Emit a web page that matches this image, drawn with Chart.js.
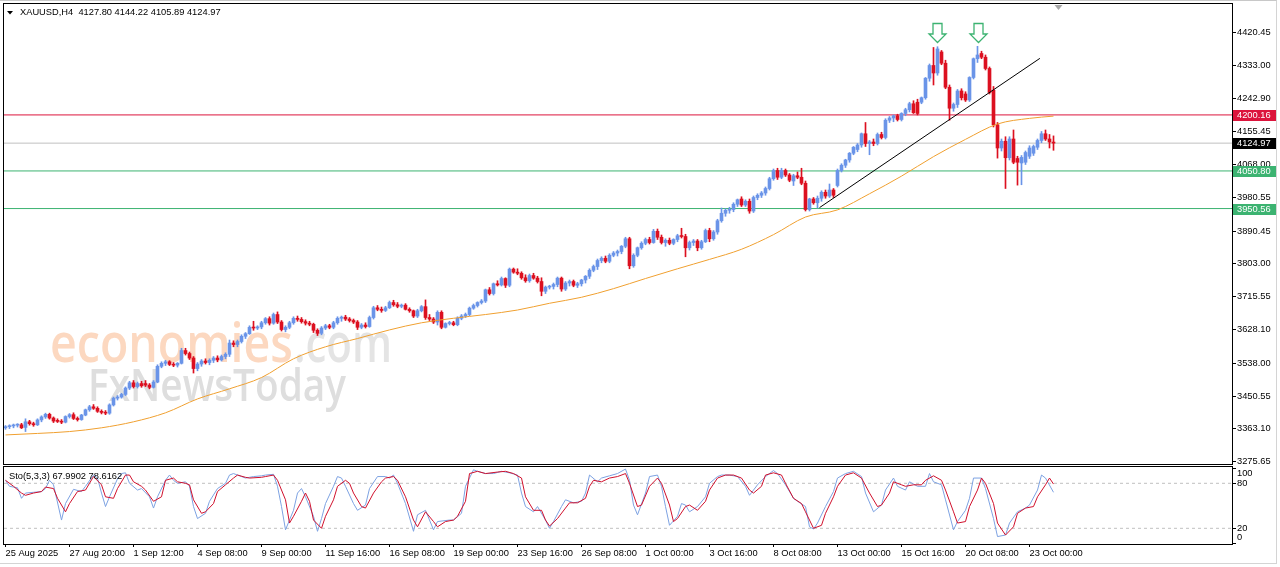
<!DOCTYPE html>
<html><head><meta charset="utf-8">
<script src="https://cdn.jsdelivr.net/npm/chart.js@4.4.1/dist/chart.umd.min.js"></script>
<style>
html,body{margin:0;padding:0;background:#fff;}
#wrap{position:relative;width:1280px;height:567px;overflow:hidden;background:#fff;}
#main{position:absolute;left:0;top:0;}
#osc{position:absolute;left:0;top:466px;}
#edge{position:absolute;left:0;top:0;width:1276px;height:562px;border-top:1px solid #c8c8c8;border-right:1px solid #d4d4d4;border-bottom:1px solid #d4d4d4;pointer-events:none;}
</style></head><body>
<div id="wrap">
<canvas id="main" width="1280" height="466"></canvas>
<canvas id="osc" width="1280" height="101"></canvas>
<div id="edge"></div>
</div>
<script>
const symbol = 'XAUUSD';
const timeframe = 'H4';

const opens = [
3366,3369,3371,3373,3374,3367,3382,3377,3374,3387,
3395,3402,3392,3386,3383,3381,3396,3401,3391,3388,
3400,3414,3422,3418,3410,3407,3405,3427,3445,3448,
3455,3472,3486,3476,3484,3484,3480,3474,3488,3530,
3538,3542,3535,3533,3538,3572,3564,3552,3524,3536,
3544,3540,3546,3552,3547,3556,3562,3592,3588,3596,
3610,3617,3634,3632,3635,3646,3657,3645,3668,3648,
3628,3634,3646,3658,3655,3649,3645,3642,3626,3618,
3632,3638,3634,3646,3658,3661,3656,3652,3648,3634,
3640,3636,3660,3686,3682,3679,3686,3700,3694,3690,
3693,3682,3678,3664,3678,3689,3660,3656,3648,3674,
3634,3644,3646,3641,3658,3664,3668,3685,3692,3700,
3704,3734,3724,3750,3747,3764,3746,3789,3781,3778,
3766,3758,3772,3765,3756,3730,3741,3743,3748,3765,
3736,3752,3756,3746,3750,3760,3770,3786,3796,3812,
3818,3810,3826,3832,3836,3850,3870,3798,3826,3846,
3858,3868,3860,3890,3874,3860,3866,3858,3868,3878,
3876,3846,3860,3864,3846,3862,3892,3870,3888,3918,
3938,3946,3948,3962,3976,3960,3970,3944,3980,3986,
3992,4004,4030,4052,4034,4052,4040,4024,4038,4034,
4018,3948,3976,3966,3978,3994,3984,4000,4012,4052,
4066,4080,4098,4108,4120,4150,4124,4128,4124,4148,
4140,4186,4192,4198,4188,4204,4214,4230,4234,4234,
4246,4298,4332,4312,4368,4338,4274,4218,4228,4264,
4256,4240,4300,4350,4364,4354,4324,4266,4174,4112,
4130,4086,4136,4084,4072,4074,4090,4098,4114,4132,
4150,4136,4127.80];

const highs = [
3372,3374,3376,3377,3378,3390,3386,3381,3390,3398,
3405,3405,3395,3390,3388,3398,3404,3406,3395,3402,
3416,3426,3428,3422,3414,3412,3430,3448,3452,3458,
3475,3490,3492,3488,3490,3492,3484,3492,3534,3542,
3546,3545,3540,3540,3578,3578,3568,3556,3540,3548,
3550,3550,3556,3558,3560,3566,3600,3598,3600,3614,
3620,3638,3650,3638,3650,3660,3662,3672,3675,3652,
3638,3650,3662,3664,3660,3654,3650,3645,3630,3636,
3642,3642,3650,3662,3664,3666,3660,3656,3652,3644,
3646,3664,3690,3692,3688,3690,3704,3706,3700,3696,
3697,3686,3680,3682,3692,3707,3668,3660,3678,3678,
3646,3650,3650,3662,3668,3672,3688,3696,3702,3708,
3736,3740,3752,3758,3768,3766,3792,3792,3790,3782,
3774,3776,3778,3770,3766,3744,3746,3752,3768,3768,
3756,3760,3760,3754,3762,3772,3790,3800,3816,3822,
3824,3830,3836,3840,3852,3874,3874,3830,3848,3862,
3872,3874,3895,3896,3880,3870,3872,3870,3882,3898,
3882,3864,3868,3868,3866,3896,3898,3892,3922,3952,
3950,3954,3966,3976,3982,3974,3976,3984,3990,3996,
4008,4034,4056,4058,4058,4056,4044,4042,4048,4058,
4024,3978,3980,3984,3998,4000,4016,4004,4056,4070,
4082,4100,4116,4124,4152,4180,4132,4136,4152,4154,
4190,4196,4200,4202,4206,4218,4234,4238,4242,4248,
4300,4336,4380,4382,4372,4346,4280,4232,4268,4270,
4262,4302,4352,4383,4370,4360,4328,4276,4180,4136,
4142,4142,4160,4090,4092,4104,4118,4120,4136,4156,
4160,4148,4144.22];

const lows = [
3362,3364,3366,3368,3364,3356,3373,3370,3372,3382,
3391,3389,3380,3380,3377,3379,3392,3388,3384,3386,
3398,3410,3415,3407,3403,3401,3402,3424,3440,3445,
3452,3468,3472,3472,3474,3476,3470,3472,3486,3526,
3532,3532,3529,3528,3536,3560,3548,3512,3518,3530,
3536,3534,3540,3542,3544,3550,3556,3582,3582,3592,
3604,3615,3626,3628,3630,3642,3640,3642,3644,3624,
3622,3630,3642,3650,3645,3640,3638,3620,3612,3614,
3628,3630,3630,3642,3650,3652,3648,3644,3628,3630,
3632,3634,3656,3678,3674,3676,3684,3690,3686,3686,
3680,3674,3660,3660,3675,3655,3652,3644,3640,3630,
3632,3640,3638,3638,3654,3660,3665,3682,3688,3696,
3700,3720,3720,3744,3744,3740,3742,3778,3774,3762,
3754,3754,3762,3752,3718,3724,3736,3736,3742,3730,
3732,3744,3742,3740,3744,3752,3764,3782,3788,3806,
3806,3806,3822,3824,3830,3846,3790,3794,3822,3842,
3854,3856,3858,3868,3856,3850,3854,3854,3862,3872,
3822,3840,3852,3838,3842,3860,3862,3866,3882,3914,
3930,3938,3942,3956,3956,3956,3938,3940,3974,3980,
3986,4000,4026,4028,4030,4036,4022,4012,4030,4014,
3944,3944,3962,3952,3970,3978,3980,3980,4008,4048,
4060,4074,4094,4102,4114,4116,4094,4118,4120,4136,
4136,4180,4182,4184,4184,4198,4208,4204,4200,4230,
4242,4290,4280,4306,4334,4270,4186,4210,4220,4240,
4236,4236,4296,4340,4350,4320,4256,4168,4085,4104,
4004,4080,4070,4013,4014,4068,4084,4092,4108,4126,
4132,4112,4105.89];

const closes = [
3369,3371,3373,3374,3366,3382,3377,3374,3387,3395,
3402,3392,3384,3383,3381,3396,3401,3391,3388,3400,
3414,3422,3418,3410,3407,3405,3427,3445,3448,3455,
3472,3486,3476,3484,3478,3480,3474,3488,3530,3538,
3542,3535,3533,3538,3572,3564,3552,3524,3536,3544,
3540,3546,3552,3547,3556,3562,3592,3588,3596,3610,
3617,3634,3632,3635,3646,3657,3645,3668,3648,3628,
3634,3646,3658,3655,3649,3645,3642,3626,3618,3632,
3638,3634,3646,3658,3661,3656,3652,3648,3634,3640,
3636,3660,3686,3682,3679,3686,3700,3694,3690,3693,
3682,3678,3664,3678,3689,3660,3656,3648,3674,3634,
3644,3646,3641,3658,3664,3668,3685,3692,3700,3704,
3734,3724,3750,3747,3764,3746,3789,3781,3778,3766,
3758,3772,3765,3756,3730,3741,3743,3748,3765,3736,
3752,3756,3746,3750,3760,3770,3786,3796,3812,3818,
3810,3826,3832,3836,3850,3870,3798,3826,3846,3858,
3868,3860,3890,3874,3860,3866,3858,3868,3878,3876,
3846,3860,3864,3846,3862,3892,3870,3888,3918,3938,
3946,3948,3962,3974,3960,3970,3944,3980,3986,3992,
4004,4030,4052,4034,4052,4040,4026,4038,4034,4018,
3948,3976,3966,3978,3994,3984,4000,3986,4052,4066,
4080,4098,4114,4120,4150,4124,4128,4124,4148,4140,
4186,4192,4198,4188,4204,4214,4230,4206,4204,4246,
4298,4332,4312,4376,4338,4274,4218,4228,4264,4246,
4240,4300,4350,4360,4354,4324,4260,4174,4112,4130,
4086,4136,4074,4074,4087,4100,4112,4116,4132,4150,
4136,4128,4124.97];

// moving average read at every 8th bar: [bar, price]
const maPoints = [[0,3347],[8,3351],[16,3356],[24,3366],[32,3382],[40,3406],[48,3443],[56,3470],
[64,3500],[72,3550],[80,3582],[88,3604],[96,3627],[104,3646],[112,3658],[120,3668],[128,3680],
[136,3698],[144,3714],[152,3737],[160,3764],[168,3790],[176,3815],[184,3842],[192,3881],
[200,3928],[208,3947],[216,3990],[224,4037],[232,4089],[240,4135],[248,4176],[256,4191],[262,4197]];

const trendLine = [[203.5,3953],[258.6,4351]];
const levelValues = [4200.16, 4124.97, 4050.80, 3950.56];
const arrowBars = [233, 243];
const arrowTipPrice = 4395;
const shiftMarkBar = 263.25;

const priceTicks = [4420.45,4333.00,4242.90,4155.45,4068.00,3980.55,3890.45,3803.00,3715.55,3628.10,3538.00,3450.55,3363.10,3275.65];

const dateTickBars = [0,16,32,48,64,80,96,112,128,144,160,176,192,208,224,240,256];
const dateTickLabels = ['25 Aug 2025','27 Aug 20:00','1 Sep 12:00','4 Sep 08:00','9 Sep 00:00','11 Sep 16:00','16 Sep 08:00','19 Sep 00:00','23 Sep 16:00','26 Sep 08:00','1 Oct 00:00','3 Oct 16:00','8 Oct 08:00','13 Oct 00:00','15 Oct 16:00','20 Oct 08:00','23 Oct 00:00'];

// Stochastic(5,3,3): [bar, value]
const stochK = [[0,84],[1,76],[3,74],[4,60],[5,67],[7,68],[9,69],[10,73],[11,84],[12,78],[14,31],[15,53],[17,72],[19,69],[20,76],[22,91],[23,87],[24,67],[25,49],[26,62],[28,86],[29,93],[30,94],[31,80],[33,71],[34,73],[36,62],[37,47],[38,62],[40,84],[41,91],[42,84],[43,80],[45,82],[46,76],[47,49],[48,33],[50,40],[51,56],[53,73],[55,80],[56,91],[57,93],[59,89],[60,87],[62,89],[64,90],[65,91],[67,92],[68,76],[69,49],[70,18],[72,44],[73,67],[74,73],[75,62],[77,36],[78,16],[79,33],[80,53],[82,76],[83,89],[84,87],[85,76],[87,53],[88,44],[90,51],[91,73],[93,89],[95,89],[96,87],[97,91],[98,80],[100,53],[102,16],[103,38],[105,44],[107,18],[108,29],[111,31],[112,31],[114,40],[115,76],[117,98],[118,96],[120,93],[122,93],[124,96],[126,94],[128,91],[129,67],[130,49],[132,42],[133,49],[135,31],[136,20],[137,29],[139,49],[140,58],[142,54],[144,56],[145,67],[146,91],[148,82],[149,87],[151,90],[153,93],[155,99],[156,84],[157,51],[158,38],[160,67],[161,89],[163,91],[164,76],[165,49],[166,24],[168,36],[169,53],[170,51],[171,42],[173,49],[175,62],[176,80],[178,89],[179,91],[181,91],[183,89],[185,76],[186,64],[188,78],[190,89],[192,97],[193,93],[195,78],[197,60],[198,56],[200,49],[201,22],[202,19],[203,27],[205,49],[207,69],[208,87],[210,93],[212,96],[214,89],[215,67],[217,42],[219,51],[220,71],[222,87],[223,76],[225,71],[226,82],[228,76],[230,76],[231,93],[232,82],[234,78],[235,58],[237,18],[238,29],[240,44],[241,60],[242,87],[244,87],[245,73],[247,33],[248,9],[250,11],[251,27],[253,42],[255,47],[256,51],[258,71],[259,91],[260,87],[262,68]];
const stochD = [[0,84],[2,76],[4,67],[5,64],[7,67],[9,69],[10,75],[12,73],[13,60],[15,42],[16,53],[18,69],[20,71],[21,80],[22,89],[24,78],[25,62],[27,60],[28,73],[30,91],[31,91],[32,82],[34,76],[35,71],[37,56],[39,62],[40,84],[42,87],[43,82],[45,80],[46,78],[47,58],[49,40],[50,42],[52,53],[53,69],[55,78],[57,87],[58,91],[60,88],[61,87],[64,88],[65,89],[67,91],[68,84],[70,58],[71,27],[72,36],[74,56],[75,67],[76,56],[77,31],[79,20],[80,36],[82,58],[83,76],[85,84],[86,80],[87,67],[89,49],[90,47],[92,67],[94,82],[95,87],[97,89],[98,84],[100,62],[102,31],[103,22],[105,42],[107,29],[108,22],[110,29],[112,31],[113,36],[115,56],[116,93],[118,96],[120,93],[123,95],[125,96],[127,93],[129,87],[130,62],[132,44],[134,44],[135,31],[136,23],[138,33],[140,47],[141,54],[143,54],[145,60],[146,76],[147,84],[149,82],[151,87],[153,89],[155,93],[156,80],[158,49],[159,51],[161,76],[163,87],[164,80],[166,51],[167,29],[168,33],[170,49],[171,51],[173,44],[175,56],[176,71],[178,87],[180,91],[182,91],[184,87],[186,71],[187,67],[189,76],[190,91],[192,94],[194,91],[195,80],[197,60],[199,53],[200,42],[202,20],[204,24],[205,40],[207,62],[208,76],[210,91],[212,94],[214,87],[216,67],[218,49],[219,51],[221,67],[222,82],[224,78],[225,76],[227,78],[229,78],[230,84],[232,90],[234,84],[235,71],[237,42],[238,27],[240,29],[241,49],[243,71],[244,87],[245,80],[247,53],[248,27],[250,11],[252,22],[253,40],[255,47],[257,49],[258,62],[260,78],[261,87],[262,79]];
const stochLast = [67.9902, 78.6162];
const stochLevels = [80, 20];
const stochTicks = [100, 80, 20, 0];

// ---------- styling ----------
const FONT = '"Liberation Sans", Arial, sans-serif';
const FS = 9.3;
const BULL = '#6a94e8';
const BEAR = '#dc1020';
const MA_COLOR = '#f0a030';
const LEVEL_COLORS = ['#dc143c', '#c0c0c0', '#3cb371', '#3cb371'];
const LEVEL_BOX = ['#dc143c', '#000000', '#3cb371', '#3cb371'];
const X_MIN = -0.375, X_MAX = 306.625;

Chart.defaults.font.family = FONT;
Chart.defaults.font.size = FS;
Chart.defaults.color = '#000';

const barIndex = opens.map((_, i) => i);
const candleColors = opens.map((o, i) => closes[i] >= o ? BULL : BEAR);
const toXY = arr => arr.map(([x, y]) => ({x, y}));
const fixAxis = (w) => s => { if (w) s.width = w; s.paddingTop = 0; s.paddingBottom = 0; s.paddingLeft = 0; s.paddingRight = 0; };

const framePlugin = {
  id: 'frame',
  afterDraw(chart) {
    const {ctx, chartArea: a} = chart;
    ctx.save();
    ctx.strokeStyle = '#000';
    ctx.lineWidth = 1;
    ctx.strokeRect(Math.round(a.left) - 0.5, Math.round(a.top) - 0.5, Math.round(a.right - a.left) + 1, Math.round(a.bottom - a.top) + 1);
    ctx.restore();
  }
};

function fitText(ctx, text, x, y, width, font, color) {
  ctx.font = font;
  const w = ctx.measureText(text).width;
  ctx.save();
  ctx.translate(x, y);
  ctx.scale(width / w, 1);
  ctx.fillStyle = color;
  ctx.fillText(text, 0, 0);
  ctx.restore();
}

const watermarkPlugin = {
  id: 'watermark',
  beforeDatasetsDraw(chart) {
    const ctx = chart.ctx;
    ctx.save();
    ctx.textBaseline = 'alphabetic';
    fitText(ctx, 'economies', 50, 362, 243, '600 54px "Open Sans", sans-serif', 'rgb(252,216,192)');
    fitText(ctx, '.com', 294, 362, 98, '600 54px "Open Sans", sans-serif', 'rgb(228,228,228)');
    fitText(ctx, 'FxNewsToday', 88, 401, 258, '600 45px "Open Sans", sans-serif', 'rgb(222,222,222)');
    ctx.restore();
  }
};

const mainOverlay = {
  id: 'mainOverlay',
  afterDatasetsDraw(chart) {
    const {ctx, scales: {x, y}} = chart;
    ctx.save();
    arrowBars.forEach(b => {
      const cx = Math.round(x.getPixelForValue(b)) + 0.5;
      const ty = Math.round(y.getPixelForValue(arrowTipPrice)) + 0.5;
      ctx.beginPath();
      ctx.moveTo(cx - 4.5, ty - 19);
      ctx.lineTo(cx + 4.5, ty - 19);
      ctx.lineTo(cx + 4.5, ty - 8.5);
      ctx.lineTo(cx + 8.5, ty - 8.5);
      ctx.lineTo(cx, ty);
      ctx.lineTo(cx - 8.5, ty - 8.5);
      ctx.lineTo(cx - 4.5, ty - 8.5);
      ctx.closePath();
      ctx.fillStyle = '#fff';
      ctx.fill();
      ctx.strokeStyle = '#3cb371';
      ctx.lineWidth = 1.3;
      ctx.stroke();
    });
    ctx.restore();
  },
  afterDraw(chart) {
    const {ctx, chartArea: a, scales: {x, y}} = chart;
    ctx.save();
    ctx.font = FS + 'px ' + FONT;
    ctx.textBaseline = 'middle';
    levelValues.forEach((v, k) => {
      const py = Math.round(y.getPixelForValue(v));
      ctx.fillStyle = LEVEL_BOX[k];
      ctx.fillRect(a.right + 1, py - 5, 43, 11);
      ctx.fillStyle = '#fff';
      ctx.fillText(v.toFixed(2), a.right + 5, py + 0.5);
    });
    const n = closes.length - 1;
    ctx.fillStyle = '#000';
    ctx.beginPath();
    ctx.moveTo(7, 11); ctx.lineTo(13, 11); ctx.lineTo(10, 14.5); ctx.closePath(); ctx.fill();
    ctx.fillText(`${symbol},${timeframe}  ${opens[n].toFixed(2)} ${highs[n].toFixed(2)} ${lows[n].toFixed(2)} ${closes[n].toFixed(2)}`, 20, 12.5);
    const sx = x.getPixelForValue(shiftMarkBar);
    ctx.fillStyle = '#a8a8a8';
    ctx.beginPath();
    ctx.moveTo(sx - 4, a.top + 1); ctx.lineTo(sx + 4, a.top + 1); ctx.lineTo(sx, a.top + 6); ctx.closePath(); ctx.fill();
    ctx.restore();
  }
};

const levelDatasets = levelValues.map((v, k) => ({
  type: 'line', label: 'level' + k,
  data: [{x: X_MIN, y: v}, {x: X_MAX, y: v}],
  borderColor: LEVEL_COLORS[k], borderWidth: 1, pointRadius: 0, order: 10
}));

new Chart(document.getElementById('main'), {
  type: 'bar',
  data: {
    labels: barIndex,
    datasets: [
      ...levelDatasets,
      {type: 'bar', label: 'wick', data: lows.map((l, i) => [l, highs[i]]), backgroundColor: candleColors,
       barThickness: 1, grouped: false, borderWidth: 0, order: 6},
      {type: 'bar', label: 'body', data: opens.map((o, i) => [o, closes[i]]), backgroundColor: candleColors,
       barThickness: 3, grouped: false, borderWidth: 0, minBarLength: 1, order: 5},
      {type: 'line', label: 'MA', data: toXY(maPoints), borderColor: MA_COLOR, borderWidth: 1, pointRadius: 0,
       cubicInterpolationMode: 'monotone', order: 3},
      {type: 'line', label: 'trend', data: toXY(trendLine), borderColor: '#000', borderWidth: 1, pointRadius: 0, order: 2}
    ]
  },
  options: {
    responsive: false, maintainAspectRatio: false, animation: false, devicePixelRatio: 1, events: [],
    layout: {padding: {left: 4, top: 4, right: 0, bottom: 2}},
    plugins: {legend: {display: false}, tooltip: {enabled: false}},
    scales: {
      x: {type: 'linear', min: X_MIN, max: X_MAX, display: false, offset: false, afterFit: fixAxis(0)},
      y: {
        position: 'right', min: 3269.5, max: 4495.9,
        afterBuildTicks: s => { s.ticks = priceTicks.map(v => ({value: v})); },
        afterFit: fixAxis(48),
        ticks: {callback: v => Number(v).toFixed(2), autoSkip: false, padding: 1, color: '#000', font: {size: FS}},
        grid: {drawOnChartArea: false, tickLength: 4, color: '#000'},
        border: {display: false}
      }
    }
  },
  plugins: [watermarkPlugin, mainOverlay, framePlugin]
});

const oscOverlay = {
  id: 'oscOverlay',
  afterDraw(chart) {
    const ctx = chart.ctx;
    ctx.save();
    ctx.font = FS + 'px ' + FONT;
    ctx.textBaseline = 'middle';
    ctx.fillStyle = '#000';
    ctx.fillText(`Sto(5,3,3) ${stochLast[0].toFixed(4)} ${stochLast[1].toFixed(4)}`, 9, 10);
    ctx.restore();
  }
};

new Chart(document.getElementById('osc'), {
  type: 'line',
  data: {
    datasets: [
      ...stochLevels.map(v => ({label: 'lvl' + v, data: [{x: X_MIN, y: v}, {x: X_MAX, y: v}],
        borderColor: '#c0c0c0', borderWidth: 1, borderDash: [3, 3], pointRadius: 0, order: 5})),
      {label: 'K', data: toXY(stochK), borderColor: '#7da2e2', borderWidth: 1, pointRadius: 0, tension: 0, order: 2},
      {label: 'D', data: toXY(stochD), borderColor: '#d0102c', borderWidth: 1, pointRadius: 0, tension: 0, order: 1}
    ]
  },
  options: {
    responsive: false, maintainAspectRatio: false, animation: false, devicePixelRatio: 1, events: [],
    layout: {padding: {left: 4, top: 1, right: 0, bottom: 0}},
    plugins: {legend: {display: false}, tooltip: {enabled: false}},
    scales: {
      x: {
        type: 'linear', min: X_MIN, max: X_MAX, offset: false,
        afterBuildTicks: s => { s.ticks = dateTickBars.map(v => ({value: v})); },
        afterFit: s => { s.height = 23; s.paddingLeft = 0; s.paddingRight = 0; s.paddingTop = 0; s.paddingBottom = 0; },
        ticks: {callback: (v, i) => dateTickLabels[i], align: 'start', maxRotation: 0, minRotation: 0,
                autoSkip: false, padding: 1, color: '#000', font: {size: FS}},
        grid: {drawOnChartArea: false, tickLength: 3, color: '#000'},
        border: {display: false}
      },
      y: {
        position: 'right', min: -0.93, max: 101.73,
        afterBuildTicks: s => { s.ticks = stochTicks.map(v => ({value: v})); },
        afterFit: fixAxis(48),
        ticks: {callback: v => v === 100 ? ['', '100'] : (v === 0 ? ['0', ''] : String(v)),
                autoSkip: false, padding: 1, color: '#000', font: {size: FS}},
        grid: {drawOnChartArea: false, tickLength: 4, color: '#000'},
        border: {display: false}
      }
    }
  },
  plugins: [oscOverlay, framePlugin]
});
</script>
</body></html>
